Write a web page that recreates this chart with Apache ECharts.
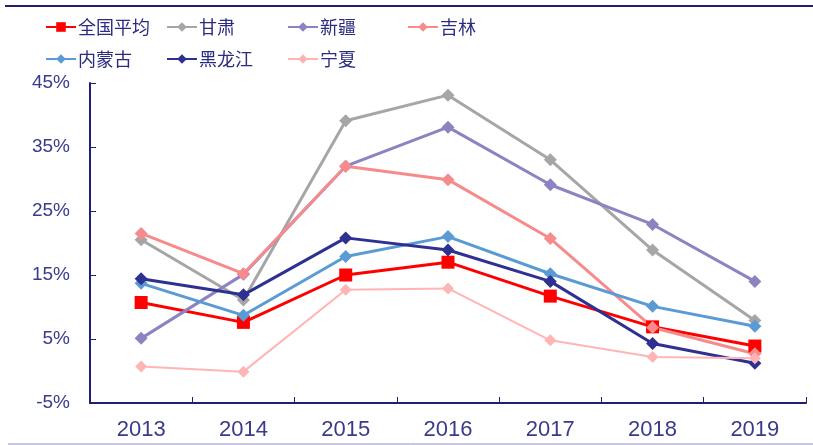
<!DOCTYPE html>
<html>
<head>
<meta charset="utf-8">
<script src="https://cdn.jsdelivr.net/npm/echarts@6/dist/echarts.min.js"></script>
<style>
  html, body { margin: 0; padding: 0; background: #fff; }
  #chart { width: 813px; height: 445px; }
</style>
</head>
<body>
<div id="chart"></div>
<script>
// 年份
var years = ['2013', '2014', '2015', '2016', '2017', '2018', '2019']
// 各地区数值 (%)
var quanguo = [10.7, 7.6, 15.0, 17.0, 11.7, 6.9, 3.9]
var gansu = [20.5, 11.1, 39.1, 43.1, 33.0, 18.9, 7.9]
var xinjiang = [5.1, 15.1, 32.0, 38.1, 29.1, 22.9, 14.0]
var jilin = [21.5, 15.2, 32.0, 29.9, 20.7, 6.8, 2.7]
var neimenggu = [13.7, 8.7, 17.9, 21.0, 15.2, 10.1, 7.0]
var heilongjiang = [14.4, 11.9, 20.8, 18.9, 14.0, 4.3, 1.2]
var ningxia = [0.7, -0.1, 12.7, 12.9, 4.8, 2.2, 2.0]
var yTicks = [-5, 5, 15, 25, 35, 45]

var chart = echarts.init(document.getElementById('chart'))

var seriesDefs = [
  { name: '全国平均', data: quanguo, color: '#ff0000', symbol: 'rect', size: 13, width: 3 },
  { name: '甘肃', data: gansu, color: '#a6a6a6', symbol: 'diamond', size: 13, width: 3 },
  { name: '新疆', data: xinjiang, color: '#8b83c2', symbol: 'diamond', size: 13, width: 3 },
  { name: '吉林', data: jilin, color: '#f78b8b', symbol: 'diamond', size: 13, width: 3 },
  { name: '内蒙古', data: neimenggu, color: '#5b9bd5', symbol: 'diamond', size: 13, width: 3 },
  { name: '黑龙江', data: heilongjiang, color: '#2e3192', symbol: 'diamond', size: 13, width: 3 },
  { name: '宁夏', data: ningxia, color: '#ffb5b5', symbol: 'diamond', size: 12, width: 2 }
]

// legend 两行, 每列固定间距
var legendPos = [[40, 13], [161, 13], [282, 13], [402, 13], [40, 45], [161, 45], [282, 45]]
var legends = seriesDefs.map(function (s, i) {
  return {
    data: [s.name],
    left: legendPos[i][0],
    top: legendPos[i][1],
    itemWidth: 30,
    itemHeight: 12,
    itemGap: 0,
    textStyle: {
      fontFamily: 'Noto Sans CJK SC',
      fontSize: 18,
      color: '#2b2b80',
      padding: [0, 0, 0, -3]
    }
  }
})

chart.setOption({
  animation: false,
  backgroundColor: '#fff',
  legend: legends,
  grid: {
    left: 90,
    right: 7,
    top: 83,
    bottom: 42
  },
  graphic: [
    { type: 'line', shape: { x1: 5, y1: 6, x2: 813, y2: 6 }, style: { stroke: '#1f1f6e', lineWidth: 2 } },
    { type: 'line', shape: { x1: 8, y1: 444, x2: 813, y2: 444 }, style: { stroke: '#8f8fc8', lineWidth: 1 } }
  ],
  xAxis: {
    type: 'category',
    data: years,
    boundaryGap: true,
    axisLine: { onZero: false, lineStyle: { color: '#1f1f7a', width: 2 } },
    axisTick: { show: true, inside: true, length: 6, lineStyle: { color: '#1f1f7a', width: 1 } },
    axisLabel: {
      margin: 16,
      fontFamily: 'Liberation Sans',
      fontSize: 22,
      color: '#3a3a8c'
    }
  },
  yAxis: {
    type: 'value',
    min: yTicks[0],
    max: yTicks[yTicks.length - 1],
    interval: 10,
    axisLine: { show: true, lineStyle: { color: '#1f1f7a', width: 2 } },
    axisTick: { show: true, inside: true, length: 6, lineStyle: { color: '#1f1f7a', width: 1 } },
    splitLine: { show: false },
    axisLabel: {
      margin: 20,
      formatter: '{value}%',
      fontFamily: 'Liberation Sans',
      fontSize: 19,
      color: '#3a3a8c'
    }
  },
  series: seriesDefs.map(function (s) {
    return {
      name: s.name,
      type: 'line',
      data: s.data,
      symbol: s.symbol,
      symbolSize: s.size,
      showAllSymbol: true,
      itemStyle: { color: s.color },
      lineStyle: { color: s.color, width: s.width }
    }
  })
})
</script>
</body>
</html>
